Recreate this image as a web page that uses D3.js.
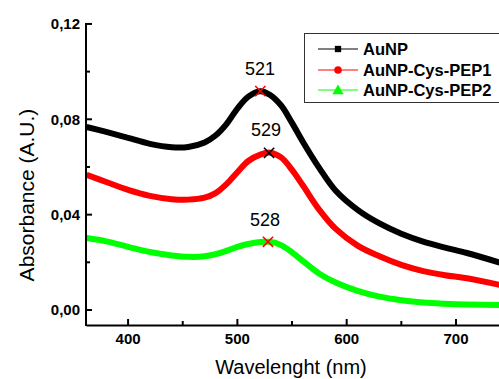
<!DOCTYPE html>
<html>
<head>
<meta charset="utf-8">
<script src="https://cdn.jsdelivr.net/npm/d3@7"></script>
<style>
  body { margin: 0; background: #fff; }
  svg { display: block; font-family: "Liberation Sans", Arial, sans-serif; }
</style>
</head>
<body>
<svg id="chart" width="499" height="379"></svg>
<script>
// wavelengths (nm) where the spectra were read
const wavelengths = [362, 380, 400, 420, 440, 455, 470, 480, 490, 500, 510, 521, 530, 540, 550, 560, 575, 590, 610, 630, 650, 670, 690, 710, 740];
const auNP      = [0.0768, 0.0747, 0.0722, 0.0697, 0.0683, 0.0684, 0.0703, 0.0732, 0.0780, 0.0845, 0.0895, 0.0918, 0.0902, 0.0858, 0.0785, 0.0705, 0.0595, 0.0500, 0.0420, 0.0363, 0.0320, 0.0287, 0.0262, 0.0239, 0.0199];
const auNPPep1  = [0.0567, 0.0537, 0.0504, 0.0479, 0.0465, 0.0463, 0.0471, 0.0490, 0.0528, 0.0578, 0.0625, 0.0652, 0.0660, 0.0640, 0.0588, 0.0522, 0.0420, 0.0340, 0.0270, 0.0225, 0.0189, 0.0163, 0.0146, 0.0133, 0.0105];
const auNPPep2  = [0.0302, 0.0288, 0.0265, 0.0243, 0.0229, 0.0223, 0.0225, 0.0234, 0.0248, 0.0265, 0.0277, 0.0285, 0.0286, 0.0272, 0.0242, 0.0205, 0.0152, 0.0115, 0.0080, 0.0056, 0.0041, 0.0031, 0.0026, 0.0023, 0.0021];

const seriesNames = ["AuNP", "AuNP-Cys-PEP1", "AuNP-Cys-PEP2"];
const seriesColors = ["#000000", "#ff0000", "#00ff00"];

// peak annotations
const peakWl = [521, 529, 528];
const peakAbs = [0.0918, 0.0659, 0.0286];
const peakColors = ["#ff0000", "#000000", "#ff0000"];

const xTicks = [400, 500, 600, 700];
const xMinor = [450, 550, 650];
const yTicks = [0, 0.04, 0.08, 0.12];
const yMinor = [0.02, 0.06, 0.10];

const svg = d3.select("#chart");
const mLeft = 86, mBottom = 325, mTop = 23, mRight = 499.7;

const x = d3.scaleLinear().domain([361.5, 740]).range([mLeft, mRight]);
const y = d3.scaleLinear().domain([-0.0063, 0.1204]).range([mBottom, mTop]);

svg.append("defs").append("clipPath").attr("id", "clip")
  .append("rect").attr("x", mLeft).attr("y", mTop).attr("width", mRight - mLeft).attr("height", mBottom - mTop);

// curves
const allSeries = [auNP, auNPPep1, auNPPep2];
const line = d3.line()
  .x((d, i) => x(wavelengths[i]))
  .y(d => y(d))
  .curve(d3.curveCatmullRom.alpha(0.5));

svg.append("g").attr("clip-path", "url(#clip)")
  .selectAll("path").data(allSeries).join("path")
  .attr("d", d => line(d))
  .attr("fill", "none")
  .attr("stroke", (d, i) => seriesColors[i])
  .attr("stroke-width", 6);

// axes
const fmt = d3.format(".2f");
const xAxis = svg.append("g").attr("transform", `translate(0,${mBottom})`)
  .call(d3.axisBottom(x).tickValues(xTicks).tickSizeOuter(0));
xAxis.selectAll(".tick").remove();
xAxis.select(".domain").attr("stroke-width", 2);

const tickG = svg.append("g");
xTicks.forEach(t => {
  tickG.append("line").attr("x1", x(t)).attr("x2", x(t)).attr("y1", mBottom).attr("y2", mBottom - 6)
    .attr("stroke", "#000").attr("stroke-width", 2);
  tickG.append("text").attr("x", x(t)).attr("y", 344).attr("text-anchor", "middle")
    .attr("font-size", 15).attr("font-weight", "bold").text(t);
});
xMinor.forEach(t => {
  tickG.append("line").attr("x1", x(t)).attr("x2", x(t)).attr("y1", mBottom).attr("y2", mBottom - 4)
    .attr("stroke", "#000").attr("stroke-width", 2);
});
svg.append("line").attr("x1", mLeft).attr("x2", mLeft).attr("y1", mTop).attr("y2", mBottom + 1)
  .attr("stroke", "#000").attr("stroke-width", 2);
yTicks.forEach(t => {
  tickG.append("line").attr("x1", mLeft).attr("x2", mLeft + 6).attr("y1", y(t)).attr("y2", y(t))
    .attr("stroke", "#000").attr("stroke-width", 2);
  tickG.append("text").attr("x", 80).attr("y", y(t)).attr("dy", "0.36em").attr("text-anchor", "end")
    .attr("font-size", 15).attr("font-weight", "bold").text(fmt(t).replace(".", ","));
});
yMinor.forEach(t => {
  tickG.append("line").attr("x1", mLeft).attr("x2", mLeft + 4).attr("y1", y(t)).attr("y2", y(t))
    .attr("stroke", "#000").attr("stroke-width", 2);
});

// axis titles
svg.append("text").attr("x", 291).attr("y", 374).attr("text-anchor", "middle")
  .attr("font-size", 20).text("Wavelenght (nm)");
svg.append("text").attr("transform", "translate(34,195) rotate(-90)").attr("text-anchor", "middle")
  .attr("font-size", 21).text("Absorbance (A.U.)");

// peak markers
const cross = d3.symbol().type(d3.symbolX).size(70);
peakWl.forEach((w, i) => {
  svg.append("path").attr("d", cross)
    .attr("transform", `translate(${x(w)},${y(peakAbs[i])})`)
    .attr("fill", "none").attr("stroke", peakColors[i]).attr("stroke-width", 1.6);
});
const peakLabelPos = [[260, 75], [266, 136], [265, 226]];
peakWl.forEach((w, i) => {
  svg.append("text").attr("x", peakLabelPos[i][0]).attr("y", peakLabelPos[i][1])
    .attr("text-anchor", "middle").attr("font-size", 18).text(w);
});

// legend
const lg = svg.append("g");
lg.append("rect").attr("x", 304.5).attr("y", 33.5).attr("width", 200).attr("height", 69)
  .attr("fill", "#fff").attr("stroke", "#333").attr("stroke-width", 1);
const legendY = [49, 70, 90];
const shapes = [d3.symbolSquare, d3.symbolCircle, d3.symbolTriangle];
const shapeSizes = [40, 45, 55];
seriesNames.forEach((name, i) => {
  lg.append("line").attr("x1", 318).attr("x2", 358).attr("y1", legendY[i]).attr("y2", legendY[i])
    .attr("stroke", seriesColors[i]).attr("stroke-width", 1);
  lg.append("path").attr("d", d3.symbol().type(shapes[i]).size(shapeSizes[i]))
    .attr("transform", `translate(338,${legendY[i] + (i === 2 ? 1 : 0)})`)
    .attr("fill", seriesColors[i]);
  lg.append("text").attr("x", 363).attr("y", legendY[i]).attr("dy", "0.36em")
    .attr("font-size", 16.5).attr("font-weight", "bold").text(name);
});
</script>
</body>
</html>
